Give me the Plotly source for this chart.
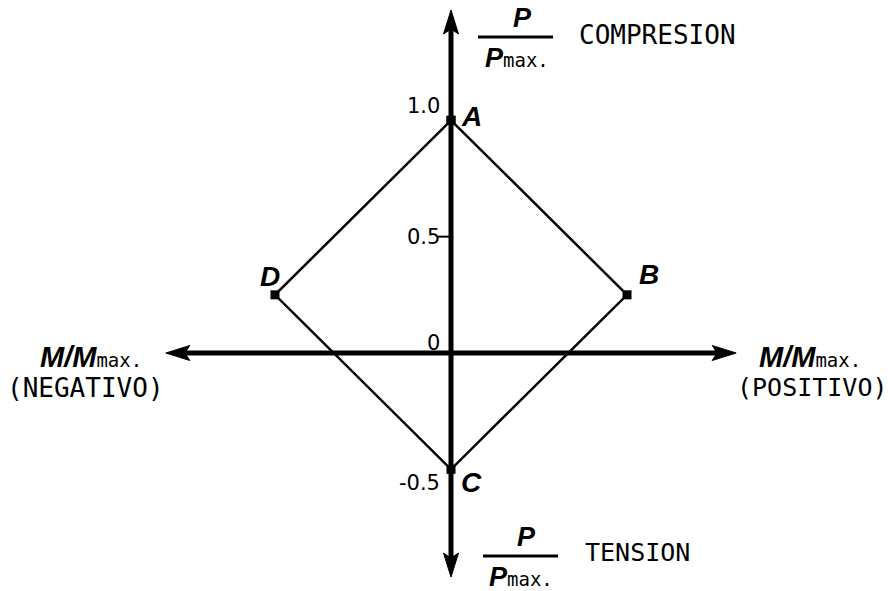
import plotly.graph_objects as go

# Interaction diagram corners: bending ratio M/Mmax and axial ratio P/Pmax
point_names = ["A", "B", "C", "D"]
m_ratio = [0.0, 0.75, 0.0, -0.75]
p_ratio = [1.0, 0.25, -0.5, 0.25]

# Labels printed along the P/Pmax axis
tick_values = [1.0, 0.5, 0.0, -0.5]
tick_labels = ["1.0", "0.5", "0", "-0.5"]

# Extent of the two arrowed axes (data units)
axis_m_extent = 1.215
axis_p_top = 1.474
axis_p_bottom = -0.963

W, H = 888, 591
ORIGIN_X, ORIGIN_Y = 451, 353      # where M = 0, P = 0 sits on the page
SCALE_X, SCALE_Y = 234.7, 232.7    # pixels per unit ratio

x_range = [-ORIGIN_X / SCALE_X, (W - ORIGIN_X) / SCALE_X]
y_range = [-(H - ORIGIN_Y) / SCALE_Y, ORIGIN_Y / SCALE_Y]

MONO = "DejaVu Sans Mono"
SANS = "Liberation Sans"
INK = "black"


def paper(xp, yp):
    """Page pixel -> paper fraction."""
    return xp / W, 1 - yp / H


def arrow_head(tip_x, tip_y, ux, uy, length=24, half=7.5, notch=5):
    """Filled arrow head (pixel sizes) pointing along (ux, uy)."""
    nx, ny = -uy, ux
    pts = [
        (0, 0),
        (-length * ux + half * nx, -length * uy + half * ny),
        (-(length - notch) * ux, -(length - notch) * uy),
        (-length * ux - half * nx, -length * uy - half * ny),
        (0, 0),
    ]
    xs = [tip_x + px_ / SCALE_X for px_, _ in pts]
    ys = [tip_y + py_ / SCALE_Y for _, py_ in pts]
    return go.Scatter(x=xs, y=ys, mode="lines", fill="toself", fillcolor=INK,
                      line=dict(color=INK, width=1), hoverinfo="skip", showlegend=False)


fig = go.Figure()

HEAD_BACK = 19  # pixels from tip to the notch, where the shaft ends
# horizontal M axis
fig.add_trace(go.Scatter(
    x=[-axis_m_extent + HEAD_BACK / SCALE_X, axis_m_extent - HEAD_BACK / SCALE_X],
    y=[0, 0], mode="lines", line=dict(color=INK, width=5),
    hoverinfo="skip", showlegend=False))
# vertical P axis
fig.add_trace(go.Scatter(
    x=[0, 0],
    y=[axis_p_bottom + HEAD_BACK / SCALE_Y, axis_p_top - HEAD_BACK / SCALE_Y],
    mode="lines", line=dict(color=INK, width=5),
    hoverinfo="skip", showlegend=False))

fig.add_trace(arrow_head(axis_m_extent, 0, 1, 0))
fig.add_trace(arrow_head(-axis_m_extent, 0, -1, 0))
fig.add_trace(arrow_head(0, axis_p_top, 0, 1))
fig.add_trace(arrow_head(0, axis_p_bottom, 0, -1))

# the interaction diamond
fig.add_trace(go.Scatter(
    x=m_ratio + [m_ratio[0]], y=p_ratio + [p_ratio[0]],
    mode="lines+markers",
    line=dict(color=INK, width=2.5),
    marker=dict(symbol="square", size=9, color=INK),
    hoverinfo="skip", showlegend=False))

annotations = []

# corner letters
letter_offsets = {"A": (20, 4), "B": (22, 20), "C": (20, -13), "D": (-5, 18)}
for name, m, p in zip(point_names, m_ratio, p_ratio):
    dx, dy = letter_offsets[name]
    annotations.append(dict(
        x=m, y=p, xref="x", yref="y", text=f"<b><i>{name}</i></b>",
        showarrow=False, xshift=dx, yshift=dy,
        font=dict(family=SANS, size=28, color=INK)))

# P/Pmax values
label_shift = {"1.0": 14, "0.5": 0, "0": 10, "-0.5": -14}
for v, lab in zip(tick_values, tick_labels):
    annotations.append(dict(
        x=0, y=v, xref="x", yref="y", text=lab, showarrow=False,
        xanchor="right", xshift=-9, yshift=label_shift[lab],
        font=dict(family="DejaVu Sans", size=21, color=INK)))

shapes = [dict(type="line", xref="x", yref="y",
               x0=-13 / SCALE_X, x1=0, y0=tick_values[1], y1=tick_values[1],
               line=dict(color=INK, width=2))]

MAX = f"<span style='font-family:{MONO};font-size:19px;font-weight:normal'>max.</span>"


def text_at(xp, yp, text, size, family=MONO, xanchor="center"):
    x, y = paper(xp, yp)
    annotations.append(dict(
        x=x, y=y, xref="paper", yref="paper", text=text, showarrow=False,
        xanchor=xanchor, yanchor="middle",
        font=dict(family=family, size=size, color=INK)))


def fraction(cx, y_line, x0, x1):
    text_at(cx + 4, y_line - 19, "<b><i>P</i></b>", 27, SANS)
    text_at(cx - 1, y_line + 21, "<b><i>P</i></b>" + MAX, 27, SANS)
    a0, b = paper(x0, y_line)
    a1, _ = paper(x1, y_line)
    shapes.append(dict(type="line", xref="paper", yref="paper",
                       x0=a0, x1=a1, y0=b, y1=b, line=dict(color=INK, width=3)))


# compression / tension captions on the P axis
fraction(518, 37, 478, 553)
text_at(577, 35, "COMPRESION", 26, xanchor="left")
fraction(522, 556, 483, 558)
text_at(583, 552, "TENSION", 25, xanchor="left")

# M axis captions
text_at(91, 357, "<b><i>M/M</i></b>" + MAX, 29, SANS)
text_at(85, 388, "(NEGATIVO)", 26)
text_at(810, 357, "<b><i>M/M</i></b>" + MAX, 29, SANS)
text_at(812, 387, "(POSITIVO)", 25)

fig.update_layout(
    width=W, height=H,
    margin=dict(l=0, r=0, t=0, b=0),
    paper_bgcolor="white", plot_bgcolor="white",
    xaxis=dict(range=x_range, visible=False, fixedrange=True),
    yaxis=dict(range=y_range, visible=False, fixedrange=True),
    annotations=annotations,
    shapes=shapes,
    showlegend=False,
)

fig.write_html("out.html")
